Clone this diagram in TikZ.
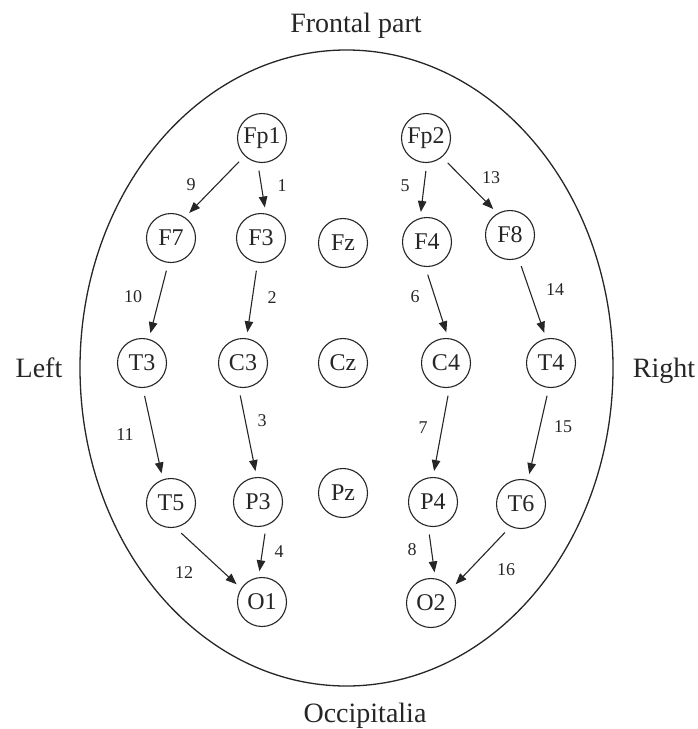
\documentclass[tikz,border=0pt]{standalone}
\usepackage{fontspec}
\setmainfont{Liberation Serif}
\usetikzlibrary{arrows.meta}
\definecolor{linecol}{HTML}{262626}
\begin{document}
\begin{tikzpicture}[x=1pt,y=-1pt,
  elec/.style={circle, draw=linecol, line width=1.1pt, minimum size=49pt, inner sep=0pt, text=linecol, font=\fontsize{24}{24}\selectfont},
  arr/.style={draw=linecol, line width=1.1pt, -{Triangle[length=11pt,width=8.5pt]}, shorten <=8pt, shorten >=6pt},
  lbl/.style={text=linecol, font=\fontsize{18}{18}\selectfont},
  ttl/.style={text=linecol, font=\fontsize{28}{28}\selectfont, anchor=base}]
\useasboundingbox (0,0) rectangle (698,729);
\draw[linecol, line width=1.3pt] (346.5,368) ellipse [x radius=266.5pt, y radius=318pt];
\node[ttl] (front) at (356,32) {Frontal part};
\node[ttl] (left) at (39,377) {Left};
\node[ttl] (right) at (664,377) {Right};
\node[ttl] (occ) at (365,722) {Occipitalia};
% electrodes
\node[elec] (Fp1) at (262,138) {Fp1};
\node[elec] (Fp2) at (426,138) {Fp2};
\node[elec] (F7) at (171,238) {F7};
\node[elec] (F3) at (261,238) {F3};
\node[elec] (Fz) at (343,243) {Fz};
\node[elec] (F4) at (427,242) {F4};
\node[elec] (F8) at (510,235) {F8};
\node[elec] (T3) at (142,363) {T3};
\node[elec] (C3) at (243,363) {C3};
\node[elec] (Cz) at (343,363) {Cz};
\node[elec] (C4) at (446,363) {C4};
\node[elec] (T4) at (551,363) {T4};
\node[elec] (T5) at (171,503) {T5};
\node[elec] (P3) at (258,502) {P3};
\node[elec] (Pz) at (343,493) {Pz};
\node[elec] (P4) at (433,502) {P4};
\node[elec] (T6) at (521,504) {T6};
\node[elec] (O1) at (262,602) {O1};
\node[elec] (O2) at (431,603) {O2};
% connectors
\draw[arr] (Fp1.-134) -- (F7.56);
\draw[arr] (Fp1.-100) -- (F3.79);
\draw[arr] (Fp2.-88) -- (F4.106);
\draw[arr] (Fp2.-50) -- (F8.120);
\draw[arr] (F7.-96) -- (T3.74);
\draw[arr] (F3.-98) -- (C3.82);
\draw[arr] (F4.-94) -- (C4.85);
\draw[arr] (F8.-70) -- (T4.101);
\draw[arr] (T3.-88) -- (T5.109);
\draw[arr] (C3.-100) -- (P3.93);
\draw[arr] (C4.-82) -- (P4.90);
\draw[arr] (T4.-95) -- (T6.74);
\draw[arr] (T5.-80) -- (O1.147);
\draw[arr] (P3.-71) -- (O1.98);
\draw[arr] (P4.-101) -- (O2.80);
\draw[arr] (T6.-115) -- (O2.35);
% edge labels
\node[lbl] (l9) at (191,185) {9};
\node[lbl] (l1) at (282,186) {1};
\node[lbl] (l5) at (405,186) {5};
\node[lbl] (l13) at (491,178) {13};
\node[lbl] (l10) at (133,297) {10};
\node[lbl] (l2) at (272,298) {2};
\node[lbl] (l6) at (415,297) {6};
\node[lbl] (l14) at (555,290) {14};
\node[lbl] (l11) at (125,435) {11};
\node[lbl] (l3) at (262,421) {3};
\node[lbl] (l7) at (423,428) {7};
\node[lbl] (l15) at (563,427) {15};
\node[lbl] (l12) at (184,573) {12};
\node[lbl] (l4) at (279,552) {4};
\node[lbl] (l8) at (412,550) {8};
\node[lbl] (l16) at (506,570) {16};
\end{tikzpicture}
\end{document}
